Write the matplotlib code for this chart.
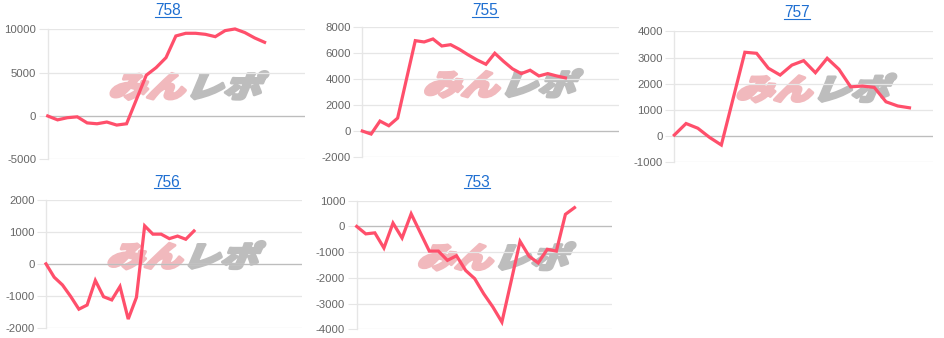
import matplotlib
matplotlib.use('Agg')
import matplotlib.pyplot as plt
from matplotlib.textpath import TextPath
from matplotlib.font_manager import FontProperties
from matplotlib.patches import PathPatch
from matplotlib.transforms import Affine2D, IdentityTransform
from matplotlib.lines import Line2D

# ---------------- data ----------------
titles = ['758', '755', '757', '756', '753']
s758 = [0, -450, -200, -100, -800, -900, -700, -1050, -900, 1900, 4700, 5580,
        6730, 9230, 9540, 9540, 9420, 9150, 9850, 10040, 9620, 9000, 8500]
s755 = [0, -230, 770, 410, 1000, 4000, 6970, 6870, 7100, 6560, 6660, 6300,
        5870, 5480, 5150, 6000, 5370, 4800, 4430, 4690, 4250, 4430, 4250, 4100]
s757 = [40, 480, 300, -50, -340, 1430, 3200, 3160, 2590, 2330, 2710, 2880,
        2420, 2970, 2550, 1880, 1910, 1860, 1310, 1150, 1080]
s756 = [0, -420, -660, -1020, -1420, -1290, -520, -1030, -1130, -710, -1730,
        -1050, 1190, 930, 930, 790, 870, 770, 1030]
s753 = [0, -290, -250, -840, 130, -450, 490, -235, -960, -960, -1320, -1140,
        -1710, -2030, -2620, -3130, -3720, -2160, -580, -1160, -1420, -890,
        -960, 470, 730]
series = [s758, s755, s757, s756, s753]
y_ticks = [[-5000, 0, 5000, 10000],
           [-2000, 0, 2000, 4000, 6000, 8000],
           [-1000, 0, 1000, 2000, 3000, 4000],
           [-2000, -1000, 0, 1000, 2000],
           [-4000, -3000, -2000, -1000, 0, 1000]]
x_slots = [26.1, 29.1, 22.0, 31.1, 28.1]

# ---------------- layout (pixels) ----------------
W, H = 944, 338
boxes = [(47.7, 305, 29.3, 159.3), (362.3, 619.3, 27.3, 157),
         (674.3, 933, 31.3, 162.3), (46, 301.7, 200, 327.7),
         (356.7, 611.7, 200.7, 329.3)]
title_pos = [(168, 15), (484.7, 15), (797, 17), (167, 186.7), (477, 186.7)]

LINE = '#ff4f6b'
GRID = '#e6e6e6'
ZERO = '#bdbdbd'
TICKC = '#666666'
TITLEC = '#1f6fd1'

fig = plt.figure(figsize=(W / 100, H / 100), dpi=100)
fig.patch.set_facecolor('white')

fp_wm = FontProperties(family='Noto Sans CJK JP', weight='heavy')


def watermark(ax):
    bb = ax.bbox
    x0 = bb.x0 + 0.235 * bb.width
    x1 = bb.x0 + 0.84 * bb.width
    y0 = bb.y0 + 0.46 * bb.height
    y1 = bb.y0 + 0.675 * bb.height
    parts = [('みん', '#f1b9bd'), ('レポ', '#bdbdbd')]
    paths = [TextPath((0, 0), t, size=100, prop=fp_wm) for t, _ in parts]
    shear = Affine2D().skew_deg(18, 0)
    ext = [p.get_extents() for p in paths]
    gap = 8
    total_w = ext[0].width + gap + ext[1].width
    ymin = min(e.y0 for e in ext)
    ymax = max(e.y1 for e in ext)
    sx = (x1 - x0) / (total_w + (ymax - ymin) * 0.32)
    sy = (y1 - y0) / (ymax - ymin)
    offset = -ext[0].x0
    for (t, c), p, e in zip(parts, paths, ext):
        tr = (Affine2D().translate(offset, -ymin) + shear +
              Affine2D().scale(sx, sy).translate(x0, y0))
        patch = PathPatch(tr.transform_path(p), facecolor=c, edgecolor=c,
                          linewidth=2.2, joinstyle='round',
                          transform=IdentityTransform(), zorder=0.2,
                          clip_on=False)
        ax.add_artist(patch)
        offset += e.width + gap


axes = []
for i, (vals, ticks, nx, box) in enumerate(zip(series, y_ticks, x_slots, boxes)):
    l, r, t, b = box
    ax = fig.add_axes([l / W, 1 - b / H, (r - l) / W, (b - t) / H])
    ax.set_facecolor('none')
    ax.plot(range(len(vals)), vals, color=LINE, lw=2.3, zorder=3,
            solid_joinstyle='miter', clip_on=False)
    ax.set_xlim(0, nx)
    ax.set_ylim(ticks[0], ticks[-1])
    ax.set_yticks(ticks)
    ax.set_yticklabels([str(v) for v in ticks], fontfamily='Liberation Sans')
    ax.set_xticks([])
    ax.tick_params(axis='y', length=6.5, width=0.8, color=GRID,
                   labelcolor=TICKC, labelsize=8.2, pad=1.8)
    for s in ['top', 'right', 'bottom']:
        ax.spines[s].set_visible(False)
    ax.spines['left'].set_color(GRID)
    ax.spines['left'].set_linewidth(1)
    ax.set_axisbelow(True)
    ax.yaxis.grid(True, color=GRID, lw=0.9)
    ax.axhline(0, color=ZERO, lw=0.9, zorder=1)
    watermark(ax)
    axes.append(ax)

# titles with underline
texts = []
for title, (tx, ty) in zip(titles, title_pos):
    tt = fig.text(tx / W, 1 - ty / H, title, ha='center', va='baseline',
                  color=TITLEC, fontsize=11.2, fontfamily='Liberation Sans')
    texts.append((tt, ty))

fig.canvas.draw()
renderer = fig.canvas.get_renderer()
for tt, ty in texts:
    bb = tt.get_window_extent(renderer)
    yy = H - ty - 1.6
    fig.add_artist(Line2D([bb.x0, bb.x1], [yy, yy], color=TITLEC, lw=0.8,
                          transform=IdentityTransform()))

fig.savefig('out.png', dpi=100, facecolor='white')
